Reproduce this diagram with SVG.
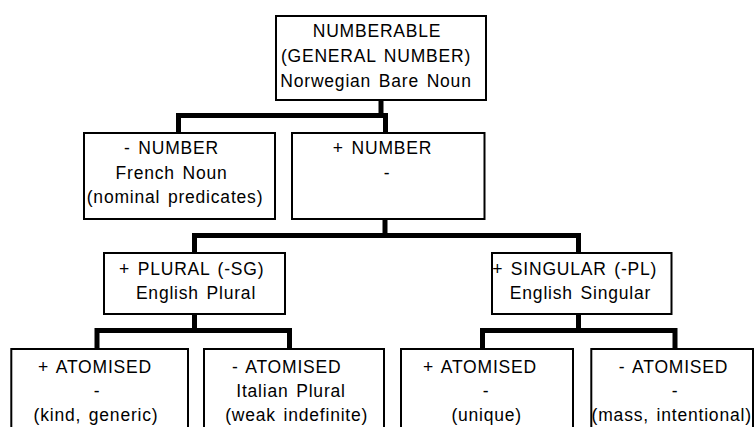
<svg xmlns="http://www.w3.org/2000/svg" width="754" height="427" viewBox="0 0 754 427">
<style>
.box{fill:#fff;stroke:#000;stroke-width:2}
.t{font-family:"Liberation Sans",Arial,sans-serif;font-size:17.5px;fill:#000;text-anchor:middle;letter-spacing:0.8px;word-spacing:2px}
.c{fill:none;stroke:#000;stroke-width:5;stroke-linejoin:miter}
</style>
<rect width="754" height="427" fill="#fff"/>
<g id="connectors">
<path class="c" d="M381,100 V115.5"/>
<path class="c" d="M178.5,133 V115.5 H385.5 V133"/>
<path class="c" d="M385,219 V235.5"/>
<path class="c" d="M194.5,253 V235.5 H578.5 V253"/>
<path class="c" d="M194.5,314 V330.5"/>
<path class="c" d="M97,349 V330.5 H289.5 V349"/>
<path class="c" d="M578.5,314 V330.5"/>
<path class="c" d="M482.5,349 V330.5 H675 V349"/>
</g>
<g id="numberable">
<rect class="box" x="276" y="16" width="210" height="84"/>
<text class="t" x="377" y="37">NUMBERABLE</text>
<text class="t" x="376" y="62">(GENERAL NUMBER)</text>
<text class="t" x="376" y="86.5">Norwegian Bare Noun</text>
</g>
<g id="minus-number">
<rect class="box" x="84" y="133" width="191" height="86"/>
<text class="t" x="171.5" y="154">- NUMBER</text>
<text class="t" x="171.5" y="178.5">French Noun</text>
<text class="t" x="175" y="203">(nominal predicates)</text>
</g>
<g id="plus-number">
<rect class="box" x="292" y="133" width="192.5" height="86"/>
<text class="t" x="382.5" y="154">+ NUMBER</text>
<text class="t" x="387" y="178.5">-</text>
</g>
<g id="plural">
<rect class="box" x="104" y="253" width="181" height="61"/>
<text class="t" x="191.7" y="274.5">+ PLURAL (-SG)</text>
<text class="t" x="196" y="299">English Plural</text>
</g>
<g id="singular">
<rect class="box" x="492" y="253" width="179.5" height="61"/>
<text class="t" x="574.7" y="274.5">+ SINGULAR (-PL)</text>
<text class="t" x="580.5" y="299">English Singular</text>
</g>
<g id="pl-atomised">
<rect class="box" x="11.3" y="349" width="176.7" height="100"/>
<text class="t" x="95" y="372.5">+ ATOMISED</text>
<text class="t" x="97" y="396.5">-</text>
<text class="t" x="96" y="420.5">(kind, generic)</text>
</g>
<g id="pl-non-atomised">
<rect class="box" x="204" y="349" width="180" height="100"/>
<text class="t" x="286.7" y="372.5">- ATOMISED</text>
<text class="t" x="291" y="396.5">Italian Plural</text>
<text class="t" x="296.7" y="420.5">(weak indefinite)</text>
</g>
<g id="sg-atomised">
<rect class="box" x="401" y="349" width="172" height="100"/>
<text class="t" x="480" y="372.5">+ ATOMISED</text>
<text class="t" x="486" y="396.5">-</text>
<text class="t" x="486.7" y="420.5">(unique)</text>
</g>
<g id="sg-non-atomised">
<rect class="box" x="591.3" y="349" width="161.7" height="100"/>
<text class="t" x="673.5" y="372.5">- ATOMISED</text>
<text class="t" x="675" y="396.5">-</text>
<text class="t" x="671.7" y="420.5">(mass, intentional)</text>
</g>
</svg>
